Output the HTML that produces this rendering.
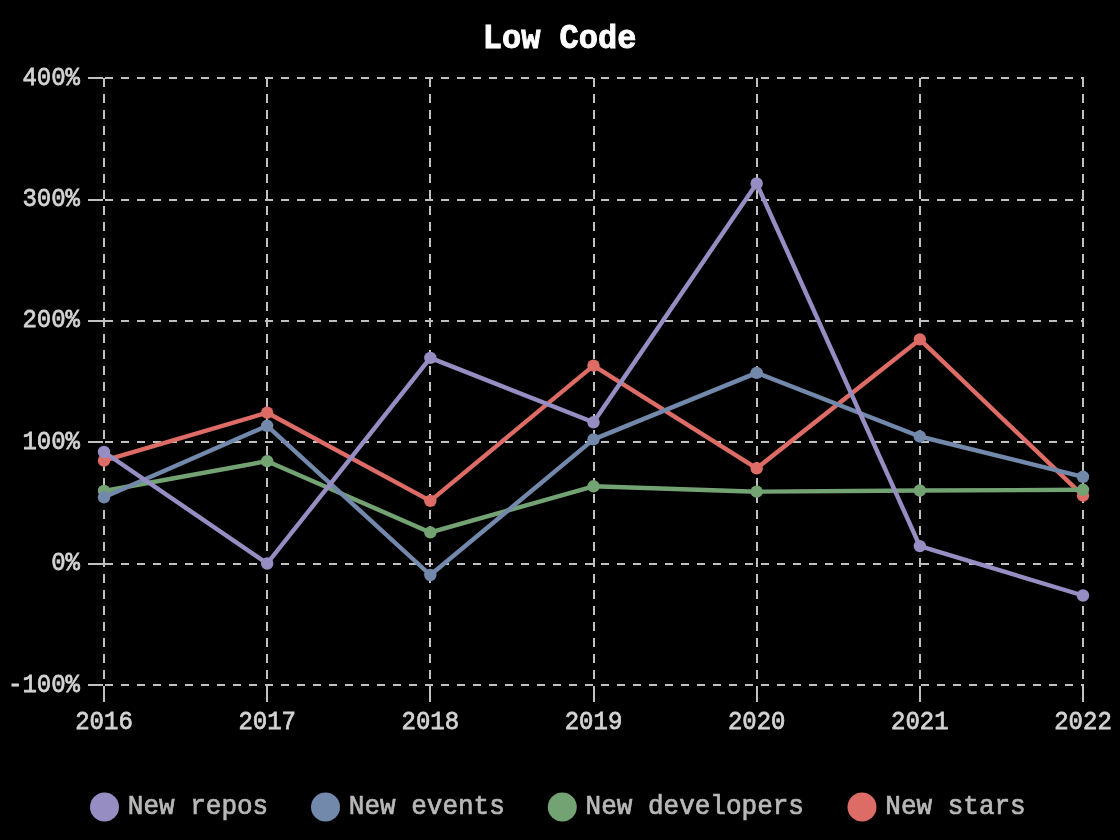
<!DOCTYPE html><html><head><meta charset="utf-8"><style>html,body{margin:0;padding:0;background:#000;width:1120px;height:840px;overflow:hidden}svg{display:block;will-change:transform}text{font-family:"Liberation Mono",monospace}</style></head><body>
<svg width="1120" height="840" viewBox="0 0 1120 840">
<rect width="1120" height="840" fill="#000"/>
<g font-size="32" font-weight="bold" fill="#ffffff" stroke="#ffffff" stroke-width="0.9"><text transform="translate(482.8,47.6) scale(1,1.0920)">L</text><text transform="translate(502.0,47.6) scale(1,1.0092)">o</text><text transform="translate(521.2,47.6) scale(1,1.0092)">w</text><text transform="translate(559.6,47.6) scale(1,1.0920)">C</text><text transform="translate(578.8,47.6) scale(1,1.0092)">o</text><text transform="translate(598.0,47.6) scale(1,1.0092)">d</text><text transform="translate(617.2,47.6) scale(1,1.0092)">e</text></g>
<g shape-rendering="crispEdges"><line x1="105" y1="78" x2="1084" y2="78" stroke="#c0c0c0" stroke-width="2" stroke-dasharray="8 8"/><line x1="88" y1="78" x2="103" y2="78" stroke="#c0c0c0" stroke-width="2"/><line x1="105" y1="200" x2="1084" y2="200" stroke="#c0c0c0" stroke-width="2" stroke-dasharray="8 8"/><line x1="88" y1="200" x2="103" y2="200" stroke="#c0c0c0" stroke-width="2"/><line x1="105" y1="321" x2="1084" y2="321" stroke="#c0c0c0" stroke-width="2" stroke-dasharray="8 8"/><line x1="88" y1="321" x2="103" y2="321" stroke="#c0c0c0" stroke-width="2"/><line x1="105" y1="442" x2="1084" y2="442" stroke="#c0c0c0" stroke-width="2" stroke-dasharray="8 8"/><line x1="88" y1="442" x2="103" y2="442" stroke="#c0c0c0" stroke-width="2"/><line x1="105" y1="564" x2="1084" y2="564" stroke="#c0c0c0" stroke-width="2" stroke-dasharray="8 8"/><line x1="88" y1="564" x2="103" y2="564" stroke="#c0c0c0" stroke-width="2"/><line x1="105" y1="685" x2="1084" y2="685" stroke="#c0c0c0" stroke-width="2" stroke-dasharray="8 8"/><line x1="88" y1="685" x2="103" y2="685" stroke="#c0c0c0" stroke-width="2"/><line x1="104" y1="78" x2="104" y2="685" stroke="#c0c0c0" stroke-width="2" stroke-dasharray="9 7"/><line x1="104" y1="686" x2="104" y2="702" stroke="#c0c0c0" stroke-width="2"/><line x1="267" y1="78" x2="267" y2="685" stroke="#c0c0c0" stroke-width="2" stroke-dasharray="9 7"/><line x1="267" y1="686" x2="267" y2="702" stroke="#c0c0c0" stroke-width="2"/><line x1="430" y1="78" x2="430" y2="685" stroke="#c0c0c0" stroke-width="2" stroke-dasharray="9 7"/><line x1="430" y1="686" x2="430" y2="702" stroke="#c0c0c0" stroke-width="2"/><line x1="594" y1="78" x2="594" y2="685" stroke="#c0c0c0" stroke-width="2" stroke-dasharray="9 7"/><line x1="594" y1="686" x2="594" y2="702" stroke="#c0c0c0" stroke-width="2"/><line x1="757" y1="78" x2="757" y2="685" stroke="#c0c0c0" stroke-width="2" stroke-dasharray="9 7"/><line x1="757" y1="686" x2="757" y2="702" stroke="#c0c0c0" stroke-width="2"/><line x1="920" y1="78" x2="920" y2="685" stroke="#c0c0c0" stroke-width="2" stroke-dasharray="9 7"/><line x1="920" y1="686" x2="920" y2="702" stroke="#c0c0c0" stroke-width="2"/><line x1="1083" y1="78" x2="1083" y2="685" stroke="#c0c0c0" stroke-width="2" stroke-dasharray="9 7"/><line x1="1083" y1="686" x2="1083" y2="702" stroke="#c0c0c0" stroke-width="2"/></g>
<text transform="translate(80,84.5) scale(1,1.0903)" text-anchor="end" font-size="24" fill="#d4d4d4" stroke="#d4d4d4" stroke-width="0.7">400%</text>
<text transform="translate(80,205.9) scale(1,1.0903)" text-anchor="end" font-size="24" fill="#d4d4d4" stroke="#d4d4d4" stroke-width="0.7">300%</text>
<text transform="translate(80,327.3) scale(1,1.0903)" text-anchor="end" font-size="24" fill="#d4d4d4" stroke="#d4d4d4" stroke-width="0.7">200%</text>
<text transform="translate(80,448.7) scale(1,1.0903)" text-anchor="end" font-size="24" fill="#d4d4d4" stroke="#d4d4d4" stroke-width="0.7">100%</text>
<text transform="translate(80,570.1) scale(1,1.0903)" text-anchor="end" font-size="24" fill="#d4d4d4" stroke="#d4d4d4" stroke-width="0.7">0%</text>
<text transform="translate(80,691.5) scale(1,1.0903)" text-anchor="end" font-size="24" fill="#d4d4d4" stroke="#d4d4d4" stroke-width="0.7">-100%</text>
<text transform="translate(104.0,729.3) scale(1,1.0903)" text-anchor="middle" font-size="24" fill="#d4d4d4" stroke="#d4d4d4" stroke-width="0.7">2016</text>
<text transform="translate(267.2,729.3) scale(1,1.0903)" text-anchor="middle" font-size="24" fill="#d4d4d4" stroke="#d4d4d4" stroke-width="0.7">2017</text>
<text transform="translate(430.3,729.3) scale(1,1.0903)" text-anchor="middle" font-size="24" fill="#d4d4d4" stroke="#d4d4d4" stroke-width="0.7">2018</text>
<text transform="translate(593.5,729.3) scale(1,1.0903)" text-anchor="middle" font-size="24" fill="#d4d4d4" stroke="#d4d4d4" stroke-width="0.7">2019</text>
<text transform="translate(756.7,729.3) scale(1,1.0903)" text-anchor="middle" font-size="24" fill="#d4d4d4" stroke="#d4d4d4" stroke-width="0.7">2020</text>
<text transform="translate(919.8,729.3) scale(1,1.0903)" text-anchor="middle" font-size="24" fill="#d4d4d4" stroke="#d4d4d4" stroke-width="0.7">2021</text>
<text transform="translate(1083.0,729.3) scale(1,1.0903)" text-anchor="middle" font-size="24" fill="#d4d4d4" stroke="#d4d4d4" stroke-width="0.7">2022</text>
<polyline points="104.00,460.7 267.17,412.7 430.33,500.9 593.50,365.6 756.67,468.3 919.83,339.4 1083.00,495.7" fill="none" stroke="#dd6b66" stroke-width="4.4" stroke-linejoin="round"/>
<circle cx="104.00" cy="460.7" r="6.2" fill="#dd6b66"/>
<circle cx="267.17" cy="412.7" r="6.2" fill="#dd6b66"/>
<circle cx="430.33" cy="500.9" r="6.2" fill="#dd6b66"/>
<circle cx="593.50" cy="365.6" r="6.2" fill="#dd6b66"/>
<circle cx="756.67" cy="468.3" r="6.2" fill="#dd6b66"/>
<circle cx="919.83" cy="339.4" r="6.2" fill="#dd6b66"/>
<circle cx="1083.00" cy="495.7" r="6.2" fill="#dd6b66"/>
<polyline points="104.00,491.0 267.17,461.2 430.33,532.4 593.50,486.3 756.67,491.7 919.83,490.5 1083.00,489.8" fill="none" stroke="#73a373" stroke-width="4.4" stroke-linejoin="round"/>
<circle cx="104.00" cy="491.0" r="6.2" fill="#73a373"/>
<circle cx="267.17" cy="461.2" r="6.2" fill="#73a373"/>
<circle cx="430.33" cy="532.4" r="6.2" fill="#73a373"/>
<circle cx="593.50" cy="486.3" r="6.2" fill="#73a373"/>
<circle cx="756.67" cy="491.7" r="6.2" fill="#73a373"/>
<circle cx="919.83" cy="490.5" r="6.2" fill="#73a373"/>
<circle cx="1083.00" cy="489.8" r="6.2" fill="#73a373"/>
<polyline points="104.00,497.3 267.17,425.8 430.33,575.0 593.50,439.4 756.67,372.9 919.83,436.5 1083.00,476.8" fill="none" stroke="#7289ab" stroke-width="4.4" stroke-linejoin="round"/>
<circle cx="104.00" cy="497.3" r="6.2" fill="#7289ab"/>
<circle cx="267.17" cy="425.8" r="6.2" fill="#7289ab"/>
<circle cx="430.33" cy="575.0" r="6.2" fill="#7289ab"/>
<circle cx="593.50" cy="439.4" r="6.2" fill="#7289ab"/>
<circle cx="756.67" cy="372.9" r="6.2" fill="#7289ab"/>
<circle cx="919.83" cy="436.5" r="6.2" fill="#7289ab"/>
<circle cx="1083.00" cy="476.8" r="6.2" fill="#7289ab"/>
<polyline points="104.00,452.0 267.17,563.5 430.33,357.9 593.50,422.3 756.67,183.5 919.83,546.1 1083.00,595.5" fill="none" stroke="#968ec3" stroke-width="4.4" stroke-linejoin="round"/>
<circle cx="104.00" cy="452.0" r="6.2" fill="#968ec3"/>
<circle cx="267.17" cy="563.5" r="6.2" fill="#968ec3"/>
<circle cx="430.33" cy="357.9" r="6.2" fill="#968ec3"/>
<circle cx="593.50" cy="422.3" r="6.2" fill="#968ec3"/>
<circle cx="756.67" cy="183.5" r="6.2" fill="#968ec3"/>
<circle cx="919.83" cy="546.1" r="6.2" fill="#968ec3"/>
<circle cx="1083.00" cy="595.5" r="6.2" fill="#968ec3"/>
<circle cx="104.5" cy="807" r="14.5" fill="#968ec3"/>
<text transform="translate(127.8,813.5) scale(1,1.0659)" font-size="26" fill="#b8b8b8" stroke="#b8b8b8" stroke-width="0.7" xml:space="preserve">New repos</text>
<circle cx="325.5" cy="807" r="14.5" fill="#7289ab"/>
<text transform="translate(348.8,813.5) scale(1,1.0659)" font-size="26" fill="#b8b8b8" stroke="#b8b8b8" stroke-width="0.7" xml:space="preserve">New events</text>
<circle cx="562.3" cy="807" r="14.5" fill="#73a373"/>
<text transform="translate(585.5999999999999,813.5) scale(1,1.0659)" font-size="26" fill="#b8b8b8" stroke="#b8b8b8" stroke-width="0.7" xml:space="preserve">New developers</text>
<circle cx="862" cy="807" r="14.5" fill="#dd6b66"/>
<text transform="translate(885.3,813.5) scale(1,1.0659)" font-size="26" fill="#b8b8b8" stroke="#b8b8b8" stroke-width="0.7" xml:space="preserve">New stars</text>
</svg></body></html>
